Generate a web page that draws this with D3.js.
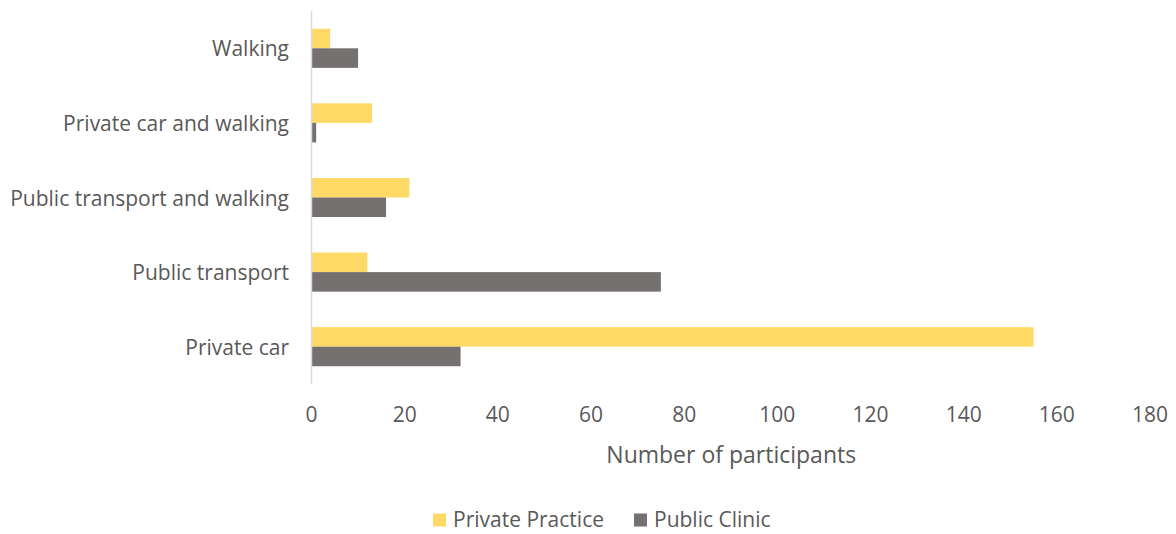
<!DOCTYPE html>
<html>
<head>
<meta charset="utf-8">
<script src="https://cdn.jsdelivr.net/npm/d3@7"></script>
<style>
  html, body { margin: 0; padding: 0; background: #fff; }
  svg text { font-family: "Open Sans", "Liberation Sans", sans-serif; fill: #595959; }
</style>
</head>
<body>
<svg id="chart" width="1176" height="534"></svg>
<script>
// Mode of transport to the practice, by type of practice
const categories = ["Walking", "Private car and walking", "Public transport and walking", "Public transport", "Private car"];
const seriesNames = ["Private Practice", "Public Clinic"];
const privatePractice = [4, 13, 21, 12, 155];
const publicClinic = [10, 1, 16, 75, 32];
const xTicks = [0, 20, 40, 60, 80, 100, 120, 140, 160, 180];
const colors = ["#FFD966", "#767171"];

const svg = d3.select("#chart");
const margin = { left: 311.5, right: 1150, top: 11, bottom: 384 };

const x = d3.scaleLinear().domain([0, 180]).range([margin.left, margin.right]);
const y = d3.scaleBand().domain(categories).range([margin.top, margin.bottom])
  .paddingInner(0.476).paddingOuter(0.238);
const ySub = d3.scaleBand().domain(seriesNames).range([0, y.bandwidth()]);

const rows = categories.map((c, i) => ({ cat: c, values: [privatePractice[i], publicClinic[i]] }));

// bars
const groups = svg.append("g").selectAll("g").data(rows).join("g")
  .attr("transform", d => `translate(0,${y(d.cat)})`);
groups.selectAll("rect")
  .data(d => d.values.map((v, j) => ({ name: seriesNames[j], v, j })))
  .join("rect")
  .attr("x", x(0))
  .attr("y", d => ySub(d.name))
  .attr("width", d => x(d.v) - x(0))
  .attr("height", ySub.bandwidth())
  .attr("fill", d => colors[d.j]);

// vertical axis line
svg.append("line")
  .attr("x1", x(0)).attr("x2", x(0))
  .attr("y1", margin.top).attr("y2", margin.bottom)
  .attr("stroke", "#d9d9d9").attr("stroke-width", 1.5);

// category labels
svg.append("g").selectAll("text").data(categories).join("text")
  .attr("x", 289)
  .attr("y", d => y(d) + y.bandwidth() / 2)
  .attr("text-anchor", "end")
  .attr("dominant-baseline", "central")
  .style("font-size", "21px")
  .text(d => d);

// x tick labels
svg.append("g").selectAll("text").data(xTicks).join("text")
  .attr("x", d => x(d))
  .attr("y", 414)
  .attr("text-anchor", "middle")
  .attr("dominant-baseline", "central")
  .style("font-size", "21px")
  .text(d => d);

// axis title
svg.append("text")
  .attr("x", (margin.left + margin.right) / 2 + 0.5)
  .attr("y", 454)
  .attr("text-anchor", "middle")
  .attr("dominant-baseline", "central")
  .style("font-size", "23px")
  .text("Number of participants");

// legend
const legendX = [433, 634];
const legend = svg.append("g").selectAll("g").data(seriesNames).join("g")
  .attr("transform", (d, i) => `translate(${legendX[i]},519)`);
legend.append("rect")
  .attr("x", 0).attr("y", -5.5).attr("width", 13).attr("height", 13)
  .attr("fill", (d, i) => colors[i]);
legend.append("text")
  .attr("x", 20).attr("y", 0)
  .attr("dominant-baseline", "central")
  .style("font-size", "21px")
  .text(d => d);
</script>
</body>
</html>
